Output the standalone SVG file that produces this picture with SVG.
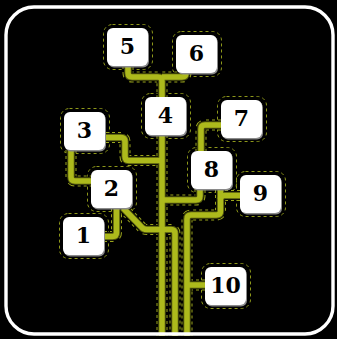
<svg xmlns="http://www.w3.org/2000/svg" xmlns:xlink="http://www.w3.org/1999/xlink" width="337" height="339" viewBox="0 0 337 339">
<style>
.case{fill:none;stroke:#9aa41c;stroke-width:11;stroke-dasharray:3 3}
.blk{fill:none;stroke:#000;stroke-width:9}
.edge{fill:none;stroke:#4d520c;stroke-width:7.5}
.core{fill:none;stroke:#adba1c;stroke-width:5.5}
.halo{fill:none;stroke:#8e981a;stroke-width:1;stroke-dasharray:3 3}
.shadow{fill:#8a8a8a}
.box{fill:#fff}
.lbl{font-family:"DejaVu Serif","Liberation Serif",serif;font-weight:bold;font-size:22px;fill:#000;text-anchor:middle}
</style>
<defs>
<path id="p5" d="M128,66 V73 Q128,77 132,77 H158 Q162,77 162,81 V97"/>
<path id="p6" d="M186,72 V73 Q186,77 182,77 H162"/>
<path id="p4" d="M162,135 V336"/>
<path id="p3" d="M106,137.5 H121 Q125,137.5 125,141.5 V156.5 Q125,160.5 129,160.5 H162"/>
<path id="p32" d="M71,150 V177 Q71,181 75,181 H91"/>
<path id="p1" d="M104,236.5 H112.5 Q116.5,236.5 116.5,232.5 V208"/>
<path id="p2" d="M123,208 L141,226.5 Q143,229.5 147,229.5 H171 Q175,229.5 175,233.5 V336"/>
<path id="p8" d="M200,189 V196 Q200,200 196,200 H162"/>
<path id="p9" d="M240,195.5 H224.5 Q220.5,195.5 220.5,199.5 V211 Q220.5,215 216.5,215 H191 Q187,215 187,219 V336"/>
<path id="p89" d="M220.5,189 V199"/>
<path id="p10" d="M205,285 H187"/>
<path id="p7" d="M221,125 H205 Q201,125 201,129 V151"/>
</defs>
<rect x="0" y="0" width="337" height="339" fill="#000"/>
<g id="halos">
<rect class="halo" x="103.5" y="24.5" width="49" height="45" rx="9"/>
<rect class="halo" x="172.5" y="31.5" width="49" height="45" rx="9"/>
<rect class="halo" x="141.5" y="93.5" width="49" height="45" rx="9"/>
<rect class="halo" x="60.5" y="108.5" width="49" height="45" rx="9"/>
<rect class="halo" x="217.5" y="96.5" width="49" height="45" rx="9"/>
<rect class="halo" x="187.5" y="147.5" width="49" height="45" rx="9"/>
<rect class="halo" x="236.5" y="171.5" width="49" height="45" rx="9"/>
<rect class="halo" x="201.5" y="263.5" width="49" height="45" rx="9"/>
<rect class="halo" x="87.5" y="166.5" width="49" height="45" rx="9"/>
<rect class="halo" x="59.5" y="213.5" width="49" height="45" rx="9"/>
</g>
<g id="connectors">
<g class="case"><use href="#p5"/><use href="#p6"/><use href="#p4"/><use href="#p3"/><use href="#p32"/><use href="#p1"/><use href="#p2"/><use href="#p8"/><use href="#p9"/><use href="#p89"/><use href="#p10"/><use href="#p7"/></g>
<g class="blk"><use href="#p5"/><use href="#p6"/><use href="#p4"/><use href="#p3"/><use href="#p32"/><use href="#p1"/><use href="#p2"/><use href="#p8"/><use href="#p9"/><use href="#p89"/><use href="#p10"/><use href="#p7"/></g>
<g class="edge"><use href="#p5"/><use href="#p6"/><use href="#p4"/><use href="#p3"/><use href="#p32"/><use href="#p1"/><use href="#p2"/><use href="#p8"/><use href="#p9"/><use href="#p89"/><use href="#p10"/><use href="#p7"/></g>
<g class="core"><use href="#p5"/><use href="#p6"/><use href="#p4"/><use href="#p3"/><use href="#p32"/><use href="#p1"/><use href="#p2"/><use href="#p8"/><use href="#p9"/><use href="#p89"/><use href="#p10"/><use href="#p7"/></g>
</g>
<g id="n5"><rect class="shadow" x="108" y="29.5" width="41" height="38" rx="6"/><rect class="box" x="107" y="28" width="41" height="38" rx="6"/><text class="lbl" x="127.5" y="54">5</text></g>
<g id="n6"><rect class="shadow" x="177" y="36.5" width="41" height="38" rx="6"/><rect class="box" x="176" y="35" width="41" height="38" rx="6"/><text class="lbl" x="196.5" y="61">6</text></g>
<g id="n4"><rect class="shadow" x="146" y="98.5" width="41" height="38" rx="6"/><rect class="box" x="145" y="97" width="41" height="38" rx="6"/><text class="lbl" x="165.5" y="123">4</text></g>
<g id="n3"><rect class="shadow" x="65" y="113.5" width="41" height="38" rx="6"/><rect class="box" x="64" y="112" width="41" height="38" rx="6"/><text class="lbl" x="84.5" y="138">3</text></g>
<g id="n7"><rect class="shadow" x="222" y="101.5" width="41" height="38" rx="6"/><rect class="box" x="221" y="100" width="41" height="38" rx="6"/><text class="lbl" x="241.5" y="126">7</text></g>
<g id="n8"><rect class="shadow" x="192" y="152.5" width="41" height="38" rx="6"/><rect class="box" x="191" y="151" width="41" height="38" rx="6"/><text class="lbl" x="211.5" y="177">8</text></g>
<g id="n9"><rect class="shadow" x="241" y="176.5" width="41" height="38" rx="6"/><rect class="box" x="240" y="175" width="41" height="38" rx="6"/><text class="lbl" x="260.5" y="201">9</text></g>
<g id="n10"><rect class="shadow" x="206" y="268.5" width="41" height="38" rx="6"/><rect class="box" x="205" y="267" width="41" height="38" rx="6"/><text class="lbl" x="225.5" y="293">10</text></g>
<g id="n2"><rect class="shadow" x="92" y="171.5" width="41" height="38" rx="6"/><rect class="box" x="91" y="170" width="41" height="38" rx="6"/><text class="lbl" x="111.5" y="196">2</text></g>
<g id="n1"><rect class="shadow" x="64" y="218.5" width="41" height="38" rx="6"/><rect class="box" x="63" y="217" width="41" height="38" rx="6"/><text class="lbl" x="83.5" y="243">1</text></g>
<rect id="frame" x="6" y="7" width="327" height="327" rx="28" fill="none" stroke="#fff" stroke-width="3.4"/>
</svg>
